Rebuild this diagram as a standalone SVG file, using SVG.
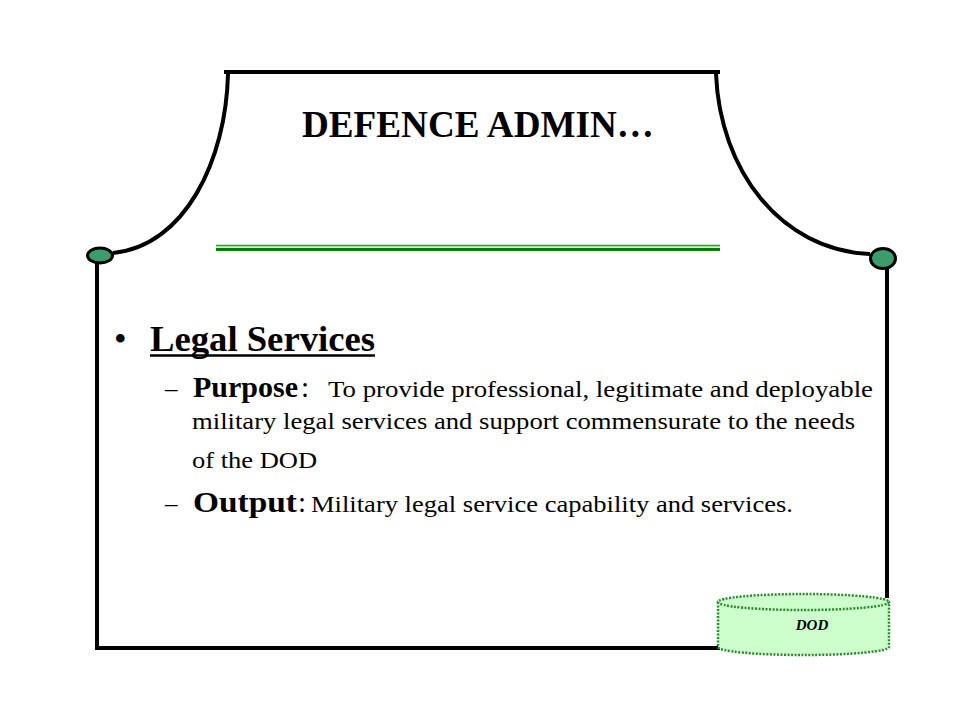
<svg xmlns="http://www.w3.org/2000/svg" width="960" height="720" viewBox="0 0 960 720">
  <style>
    .frame { fill: none; stroke: #000; stroke-width: 4; stroke-linecap: butt; }
    .knob { fill: #3a9d6b; stroke: #000; stroke-width: 3; }
    text { font-family: 'Liberation Serif', serif; fill: #000; }
    .b { font-weight: bold; }
  </style>
  <rect width="960" height="720" fill="#fff"/>

  <g id="connectors">
    <line class="frame" x1="224" y1="72" x2="720" y2="72"/>
    <path class="frame" d="M228,74 C226,160 185,246 113,253"/>
    <path class="frame" d="M716,74 C720,170 780,250 870,254"/>
    <line class="frame" x1="97" y1="263" x2="97" y2="650"/>
    <line class="frame" x1="95" y1="648" x2="720" y2="648"/>
    <line class="frame" x1="887" y1="268" x2="887" y2="598"/>
  </g>

  <g id="knob-left">
    <ellipse class="knob" cx="100" cy="255.5" rx="12.5" ry="7.5"/>
  </g>
  <g id="knob-right">
    <ellipse class="knob" cx="883" cy="258.5" rx="12.5" ry="10"/>
  </g>

  <g id="title">
    <text class="b" x="302" y="137" font-family="Liberation Serif, serif" font-size="37" textLength="352" lengthAdjust="spacingAndGlyphs">DEFENCE ADMIN…</text>
    <line x1="216" y1="245.3" x2="720" y2="245.3" stroke="#0b7a0b" stroke-width="1"/>
    <line x1="216" y1="246.8" x2="720" y2="246.8" stroke="#a6dca6" stroke-width="1.6"/>
    <line x1="216" y1="249.6" x2="720" y2="249.6" stroke="#0b7a0b" stroke-width="3"/>
  </g>

  <g id="body" font-family="Liberation Serif, serif">
    <text x="114" y="351" font-size="36">•</text>
    <text class="b" x="150" y="351" font-size="36" textLength="225" lengthAdjust="spacingAndGlyphs">Legal Services</text>
    <line x1="150" y1="355.5" x2="375" y2="355.5" stroke="#000" stroke-width="2.5"/>

    <text x="165" y="397" font-size="25">–</text>
    <text class="b" x="193" y="397" font-size="29" textLength="105" lengthAdjust="spacingAndGlyphs">Purpose</text>
    <text x="301" y="397" font-size="29">:</text>
    <text x="328" y="397" font-size="23" textLength="545" lengthAdjust="spacingAndGlyphs">To provide professional, legitimate and deployable</text>
    <text x="192" y="429" font-size="24" textLength="663" lengthAdjust="spacingAndGlyphs">military legal services and support commensurate to the needs</text>
    <text x="192" y="468" font-size="24" textLength="125" lengthAdjust="spacingAndGlyphs">of the DOD</text>

    <text x="165" y="512" font-size="25">–</text>
    <text class="b" x="193" y="512" font-size="29" textLength="104" lengthAdjust="spacingAndGlyphs">Output</text>
    <text x="298" y="512" font-size="29">:</text>
    <text x="311" y="512" font-size="24" textLength="482" lengthAdjust="spacingAndGlyphs">Military legal service capability and services.</text>
  </g>

  <g id="dod-cylinder">
    <path d="M718,602 L718,647 A85.5,8 0 0 0 889,647 L889,602 Z" fill="#ccffcc" stroke="#2d8a2d" stroke-width="2.5" stroke-dasharray="2 1.5"/>
    <ellipse cx="803.5" cy="602" rx="85.5" ry="8" fill="#ccffcc" stroke="#2d8a2d" stroke-width="2.5" stroke-dasharray="2 1.5"/>
    <text class="b" x="812" y="630" font-size="15" font-style="italic" text-anchor="middle" font-family="Liberation Serif, serif">DOD</text>
  </g>
</svg>
